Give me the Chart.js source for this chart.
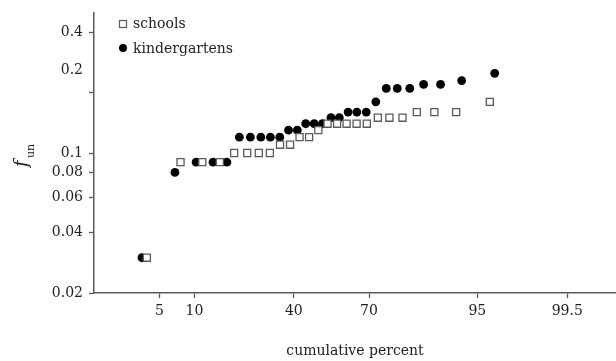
<!DOCTYPE html>
<html>
<head>
<meta charset="utf-8">
<script src="https://cdn.jsdelivr.net/npm/chart.js@4"></script>
<style>
  html, body { margin: 0; padding: 0; background: #fff; overflow: hidden; }
  #wrap { width: 616px; height: 361px; }
</style>
</head>
<body>
<div id="wrap"><canvas id="chart"></canvas></div>
<script>
// data: cumulative percent / f_un
const schoolsPercent = [3.8, 7.7, 11.5, 15.4, 19.2, 23.1, 26.9, 30.8, 34.6, 38.5, 42.3, 46.2, 50.0,
  53.8, 57.7, 61.5, 65.4, 69.2, 73.1, 76.9, 80.8, 84.6, 88.5, 92.3, 96.2];
const schoolsValue = [0.03, 0.09, 0.09, 0.09, 0.10, 0.10, 0.10, 0.10, 0.11, 0.11, 0.12, 0.12, 0.13,
  0.14, 0.14, 0.14, 0.14, 0.14, 0.15, 0.15, 0.15, 0.16, 0.16, 0.16, 0.18];

const kinderPercent = [3.4, 6.9, 10.3, 13.8, 17.2, 20.7, 24.1, 27.6, 31.0, 34.5, 37.9, 41.4, 44.8, 48.3,
  51.7, 55.2, 58.6, 62.1, 65.5, 69.0, 72.4, 75.9, 79.3, 82.8, 86.2, 89.7, 93.1, 96.6];
const kinderValue = [0.03, 0.08, 0.09, 0.09, 0.09, 0.12, 0.12, 0.12, 0.12, 0.12, 0.13, 0.13, 0.14, 0.14,
  0.14, 0.15, 0.15, 0.16, 0.16, 0.16, 0.18, 0.21, 0.21, 0.21, 0.22, 0.22, 0.23, 0.25];

const xTickPercents = [5, 10, 40, 70, 95, 99.5];
const xTickLabels = ['5', '10', '40', '70', '95', '99.5'];
// the original shows its "0.2" label a bit above its tick
const yTickValues = [0.02, 0.04, 0.06, 0.08, 0.1, 0.2, 0.26, 0.4];
const yTickLabels = ['0.02', '0.04', '0.06', '0.08', '0.1', '', '0.2', '0.4'];
const labelOnlyTick = 0.26;

const FONT = 'DejaVu Serif';
const TEXT = '#222';
const AXIS = '#5a5a5a';

// normal probability axis: percent -> z (inverse normal cdf, Acklam)
function probit(pct) {
  const p = pct / 100;
  const a = [-39.69683028665376, 220.9460984245205, -275.9285104469687, 138.3577518672690, -30.66479806614716, 2.506628277459239];
  const b = [-54.47609879822406, 161.5858368580409, -155.6989798598866, 66.80131188771972, -13.28068155288572];
  const c = [-0.007784894002430293, -0.3223964580411365, -2.400758277161838, -2.549732539343734, 4.374664141464968, 2.938163982698783];
  const d = [0.007784695709041462, 0.3224671290700398, 2.445134137142996, 3.754408661907416];
  const lo = 0.02425, hi = 1 - lo;
  let q, r;
  if (p < lo) {
    q = Math.sqrt(-2 * Math.log(p));
    return (((((c[0]*q+c[1])*q+c[2])*q+c[3])*q+c[4])*q+c[5]) / ((((d[0]*q+d[1])*q+d[2])*q+d[3])*q+1);
  }
  if (p > hi) {
    q = Math.sqrt(-2 * Math.log(1 - p));
    return -(((((c[0]*q+c[1])*q+c[2])*q+c[3])*q+c[4])*q+c[5]) / ((((d[0]*q+d[1])*q+d[2])*q+d[3])*q+1);
  }
  q = p - 0.5;
  r = q * q;
  return (((((a[0]*r+a[1])*r+a[2])*r+a[3])*r+a[4])*r+a[5])*q / (((((b[0]*r+b[1])*r+b[2])*r+b[3])*r+b[4])*r+1);
}

function toPoints(pcts, vals) {
  return pcts.map((p, i) => ({ x: probit(p), y: vals[i] }));
}

// legend inside the plot + y title with subscript
const extras = {
  id: 'extras',
  afterDraw(chart) {
    const ctx = chart.ctx;
    ctx.save();
    // legend
    ctx.font = '14px "' + FONT + '"';
    ctx.fillStyle = TEXT;
    ctx.textBaseline = 'middle';
    ctx.textAlign = 'left';
    ctx.fillText('schools', 133, 24);
    ctx.fillText('kindergartens', 133, 49);
    ctx.strokeStyle = AXIS;
    ctx.lineWidth = 1.2;
    ctx.fillStyle = '#fff';
    ctx.fillRect(119.5, 20.5, 7, 7);
    ctx.strokeRect(119.5, 20.5, 7, 7);
    ctx.fillStyle = '#000';
    ctx.beginPath();
    ctx.arc(123, 48, 4, 0, Math.PI * 2);
    ctx.fill();

    // y title: f_un
    ctx.translate(27, 167);
    ctx.rotate(-Math.PI / 2);
    ctx.fillStyle = TEXT;
    ctx.textBaseline = 'alphabetic';
    ctx.font = 'italic 18px "' + FONT + '"';
    ctx.fillText('f', 0, 0);
    ctx.font = '11px "' + FONT + '"';
    ctx.fillText('un', 9, 7);
    ctx.restore();
  }
};

const ctx = document.getElementById('chart');
new Chart(ctx, {
  type: 'scatter',
  data: {
    datasets: [
      {
        label: 'schools',
        data: toPoints(schoolsPercent, schoolsValue),
        pointStyle: 'rect',
        pointRadius: 5,
        pointHoverRadius: 5,
        pointBackgroundColor: '#fff',
        pointBorderColor: AXIS,
        pointBorderWidth: 1.3
      },
      {
        label: 'kindergartens',
        data: toPoints(kinderPercent, kinderValue),
        pointStyle: 'circle',
        pointRadius: 4.4,
        pointHoverRadius: 4.4,
        pointBackgroundColor: '#000',
        pointBorderColor: '#000',
        pointBorderWidth: 0
      }
    ]
  },
  options: {
    responsive: true,
    maintainAspectRatio: false,
    animation: false,
    layout: { autoPadding: false, padding: { top: 13, right: 0, bottom: 0, left: 0 } },
    plugins: {
      legend: { display: false },
      tooltip: { enabled: false }
    },
    scales: {
      x: {
        type: 'linear',
        min: -2.321,
        max: 3.08,
        afterBuildTicks: s => { s.ticks = xTickPercents.map(p => ({ value: probit(p) })); },
        afterFit: s => { s.height = 68; s.paddingLeft = 0; s.paddingRight = 0; },
        ticks: {
          autoSkip: false,
          maxRotation: 0,
          padding: 5,
          color: TEXT,
          font: { family: FONT, size: 14 },
          callback: (v, i) => xTickLabels[i]
        },
        grid: { drawOnChartArea: false, drawTicks: true, tickLength: 5, tickColor: AXIS, tickWidth: 1.3 },
        border: { color: AXIS, width: 1.5 },
        title: {
          display: true,
          text: 'cumulative percent',
          color: TEXT,
          font: { family: FONT, size: 14 },
          padding: { top: 0, bottom: 1 }
        }
      },
      y: {
        type: 'logarithmic',
        min: 0.02,
        max: 0.5,
        afterBuildTicks: s => { s.ticks = yTickValues.map(v => ({ value: v })); },
        afterFit: s => { s.width = 94; s.paddingTop = 0; s.paddingBottom = 0; },
        ticks: {
          autoSkip: false,
          padding: 6,
          color: TEXT,
          font: { family: FONT, size: 14 },
          callback: (v, i) => yTickLabels[i]
        },
        grid: {
          drawOnChartArea: false,
          drawTicks: true,
          tickLength: 5,
          tickWidth: 1.3,
          tickColor: c => (c.tick && c.tick.value === labelOnlyTick) ? 'rgba(0,0,0,0)' : AXIS
        },
        border: { color: AXIS, width: 1.5 }
      }
    }
  },
  plugins: [extras]
});
</script>
</body>
</html>
